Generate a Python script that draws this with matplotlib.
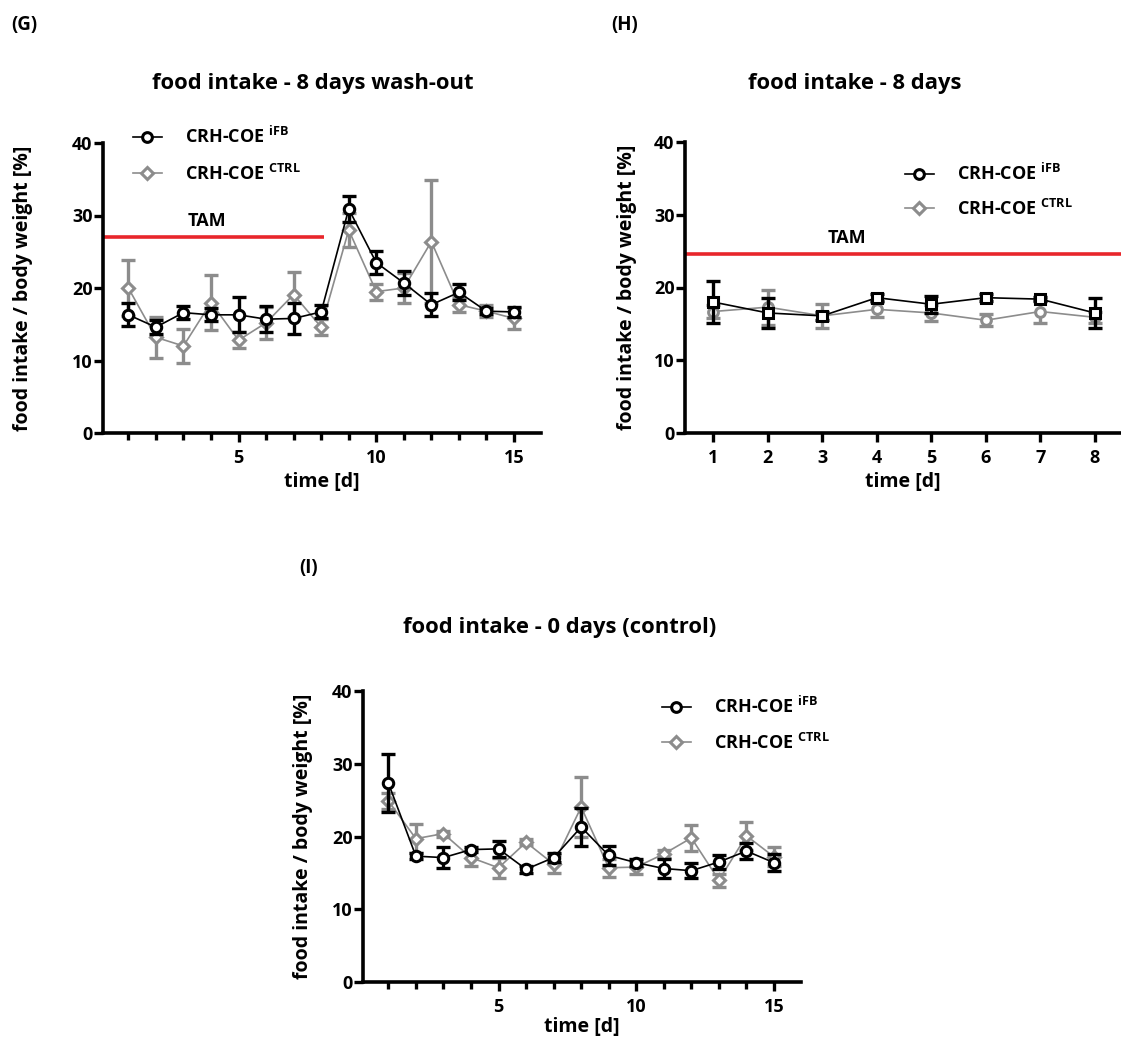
import matplotlib
matplotlib.use("Agg")
import matplotlib.pyplot as plt
from matplotlib.lines import Line2D
from matplotlib.ticker import MultipleLocator, FixedLocator
import numpy as np

plt.rcParams['font.family'] = ['Open Sans', 'DejaVu Sans']
plt.rcParams['font.weight'] = 'bold'
plt.rcParams['mathtext.fontset'] = 'custom'
plt.rcParams['mathtext.rm'] = 'Open Sans'

# ---------------- data ----------------
days15 = list(range(1, 16))
days8 = list(range(1, 9))

# (G) 8 days wash-out
g_ifb = [16.3, 14.6, 16.6, 16.3, 16.3, 15.7, 15.8, 16.7, 30.9, 23.5, 20.7, 17.7, 19.4, 16.8, 16.7]
g_ifb_err = [1.6, 1.0, 0.9, 0.9, 2.4, 1.8, 2.1, 0.9, 1.8, 1.6, 1.6, 1.6, 1.1, 0.4, 0.7]
g_ctrl = [20.0, 13.2, 12.0, 18.0, 12.8, 15.2, 19.1, 14.6, 28.0, 19.5, 20.0, 26.4, 17.7, 16.8, 15.8]
g_ctrl_err = [3.8, 2.8, 2.35, 3.8, 1.1, 2.2, 3.1, 1.1, 2.3, 1.1, 2.1, 8.5, 1.0, 0.8, 1.5]

# (H) 8 days
h_ifb = [18.0, 16.5, 16.1, 18.6, 17.7, 18.6, 18.4, 16.5]
h_ifb_err = [2.9, 2.0, 0.5, 0.5, 1.2, 0.5, 0.3, 2.0]
h_ctrl = [16.7, 17.3, 16.1, 17.0, 16.5, 15.5, 16.7, 15.9]
h_ctrl_err = [0.9, 2.4, 1.7, 1.0, 1.1, 0.8, 1.6, 0.8]

# (I) 0 days (control)
i_ifb = [27.35, 17.3, 17.1, 18.2, 18.3, 15.5, 17.1, 21.3, 17.4, 16.4, 15.6, 15.3, 16.5, 18.0, 16.4]
i_ifb_err = [4.0, 0.4, 1.4, 0.3, 1.1, 0.5, 0.6, 2.6, 1.3, 0.5, 1.3, 1.0, 1.0, 1.1, 1.2]
i_ctrl = [24.9, 19.7, 20.4, 17.1, 15.7, 19.2, 16.2, 24.05, 15.7, 15.8, 17.6, 19.8, 14.0, 20.1, 17.2]
i_ctrl_err = [1.1, 2.0, 0.4, 1.2, 1.4, 0.4, 1.2, 4.1, 1.2, 0.9, 0.5, 1.8, 0.9, 1.9, 1.3]

tam_level_g = 27.0
tam_level_h = 24.6

label_ifb = r"CRH-COE $^{\mathrm{iFB}}$"
label_ctrl = r"CRH-COE $^{\mathrm{CTRL}}$"
titles = ["food intake - 8 days wash-out", "food intake - 8 days", "food intake - 0 days (control)"]
ylabel = "food intake / body weight [%]"
xlabel = "time [d]"

GRAY = '#8c8c8c'
RED = '#e8262b'

W, H = 1121, 1041
fig = plt.figure(figsize=(W / 100, H / 100), dpi=100)

def fx(px):
    return px / W

def fy(py):
    return 1 - py / H

def make_axes(l, t, r, b):
    return fig.add_axes([fx(l), fy(b), fx(r) - fx(l), fy(t) - fy(b)])

def style(ax, ylab_px, xlab_py, l, t, r, b):
    for s in ['top', 'right']:
        ax.spines[s].set_visible(False)
    for s in ['left', 'bottom']:
        ax.spines[s].set_linewidth(2.6)
    ax.set_ylim(0, 40)
    ax.yaxis.set_major_locator(MultipleLocator(10))
    ax.tick_params(axis='both', which='major', width=2.4, length=6.5, labelsize=13)
    ax.tick_params(axis='y', which='major', pad=1)
    ax.tick_params(axis='x', which='major', pad=5)
    ax.tick_params(axis='x', which='minor', width=2.4, length=5)
    for lab in ax.get_xticklabels() + ax.get_yticklabels():
        lab.set_fontweight('bold')
    ax.set_ylabel(ylabel, fontsize=14, fontweight='bold')
    ax.set_xlabel(xlabel, fontsize=14, fontweight='bold')
    # place axis labels at measured pixel positions (right edge / top edge)
    ax.yaxis.set_label_coords((ylab_px - l) / (r - l), 0.5)
    ax.xaxis.set_label_coords(0.5, (b - xlab_py) / (b - t))

def series(ax, x, y, e, color, marker, ms, z):
    ax.plot(x, y, color=color, lw=1.2, zorder=z)
    ax.errorbar(x, y, yerr=e, fmt='none', ecolor=color, elinewidth=2.4,
                capsize=4.8, capthick=2.4, zorder=z + 0.5)
    ax.plot(x, y, linestyle='none', marker=marker, ms=ms, mfc='white',
            mec=color, mew=2.2, zorder=z + 1)

def handles(m1, m2):
    h1 = Line2D([], [], color='black', lw=1.2, marker=m1, ms=7, mfc='white', mec='black', mew=2.2)
    h2 = Line2D([], [], color=GRAY, lw=1.2, marker=m2, ms=6.5, mfc='white', mec=GRAY, mew=2.2)
    return [h1, h2]

def legend(ax, px, py, spacing):
    leg = ax.legend(handles('o', 'D'), [label_ifb, label_ctrl], loc='upper left',
                    bbox_to_anchor=(fx(px), fy(py)), bbox_transform=fig.transFigure,
                    frameon=False, handlelength=1.6, handletextpad=1.3,
                    labelspacing=spacing, borderpad=0, borderaxespad=0,
                    prop={'size': 13, 'weight': 'bold'})
    return leg

# ---------------- (G) ----------------
GL, GT, GR, GB = 103, 143, 541, 433
axG = make_axes(GL, GT, GR, GB)
series(axG, days15, g_ctrl, g_ctrl_err, GRAY, 'D', 6.5, 2)
series(axG, days15, g_ifb, g_ifb_err, 'black', 'o', 7.5, 4)
axG.set_xlim(0.08, 15.98)
axG.xaxis.set_major_locator(FixedLocator([5, 10, 15]))
axG.xaxis.set_minor_locator(FixedLocator([d for d in days15 if d % 5 != 0]))
style(axG, 33, 472, GL, GT, GR, GB)
axG.plot([0.08, 8.1], [tam_level_g, tam_level_g], color=RED, lw=2.6, zorder=1, solid_capstyle='butt')
axG.text(3.85, 28.0, "TAM", fontsize=13, fontweight='bold', ha='center', va='bottom')
legend(axG, 133, 126, 0.9)

# ---------------- (H) ----------------
HL, HT, HR, HB = 685, 142, 1121, 433
axH = make_axes(HL, HT, HR, HB)
series(axH, days8, h_ctrl, h_ctrl_err, GRAY, 'o', 7, 2)
series(axH, days8, h_ifb, h_ifb_err, 'black', 's', 7.5, 4)
axH.set_xlim(0.48, 8.48)
axH.xaxis.set_major_locator(FixedLocator(days8))
style(axH, 637, 472, HL, HT, HR, HB)
axH.plot([0.48, 8.48], [tam_level_h, tam_level_h], color=RED, lw=2.6, zorder=1, solid_capstyle='butt')
axH.text(3.46, 25.6, "TAM", fontsize=13, fontweight='bold', ha='center', va='bottom')
legend(axH, 905, 163, 0.8)

# ---------------- (I) ----------------
IL, IT, IR, IB = 363, 691, 801, 982
axI = make_axes(IL, IT, IR, IB)
series(axI, days15, i_ctrl, i_ctrl_err, GRAY, 'D', 6.5, 2)
series(axI, days15, i_ifb, i_ifb_err, 'black', 'o', 7.5, 4)
axI.set_xlim(0.08, 15.98)
axI.xaxis.set_major_locator(FixedLocator([5, 10, 15]))
axI.xaxis.set_minor_locator(FixedLocator([d for d in days15 if d % 5 != 0]))
style(axI, 313, 1017, IL, IT, IR, IB)
legend(axI, 662, 696, 0.85)

# ---------------- titles & panel labels ----------------
fig.text(fx(313), fy(83), titles[0], fontsize=15.8, fontweight='bold', ha='center', va='center')
fig.text(fx(855), fy(83), titles[1], fontsize=15.8, fontweight='bold', ha='center', va='center')
fig.text(fx(560), fy(628), titles[2], fontsize=15.8, fontweight='bold', ha='center', va='center')
fig.text(fx(11), fy(25), "(G)", fontsize=13.5, fontweight='bold', ha='left', va='center')
fig.text(fx(611), fy(25), "(H)", fontsize=13.5, fontweight='bold', ha='left', va='center')
fig.text(fx(299), fy(568), "(I)", fontsize=13.5, fontweight='bold', ha='left', va='center')

fig.savefig("out.png", dpi=100)
